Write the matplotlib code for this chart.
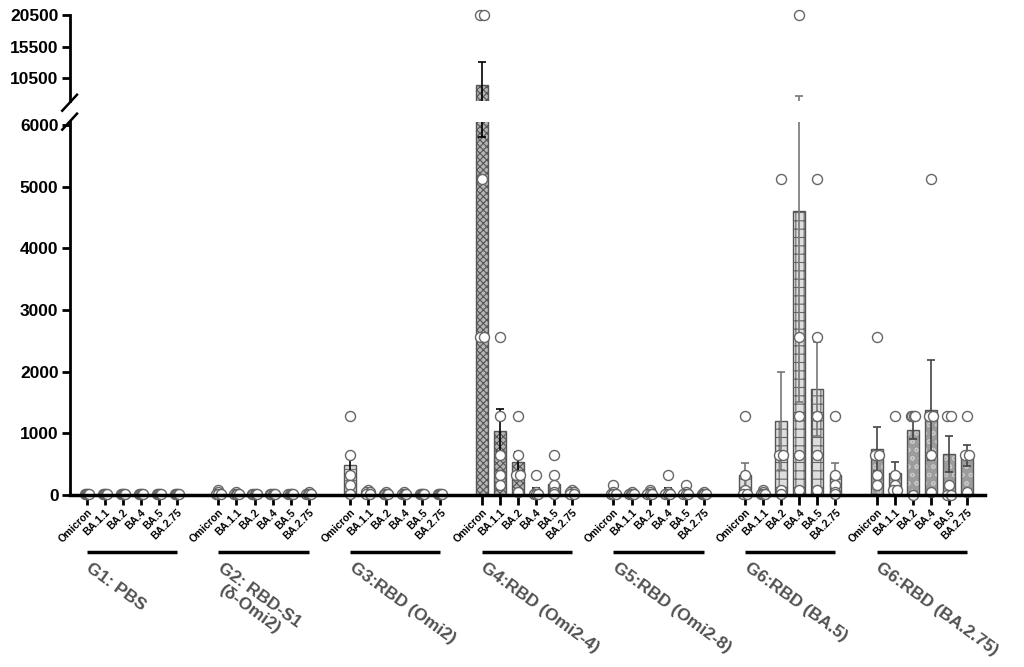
import numpy as np
import matplotlib
matplotlib.use("Agg")
from matplotlib import pyplot as plt

plt.rcParams['font.family'] = ['Liberation Sans', 'DejaVu Sans']
plt.rcParams['font.weight'] = 'bold'
plt.rcParams['hatch.linewidth'] = 0.8

# Variants tested in every group
variants = ['Omicron', 'BA.1.1', 'BA.2', 'BA.4', 'BA.5', 'BA.2.75']
groups = ['G1: PBS', 'G2: RBD-S1\n(δ-Omi2)', 'G3:RBD (Omi2)', 'G4:RBD (Omi2-4)',
          'G5:RBD (Omi2-8)', 'G6:RBD (BA.5)', 'G6:RBD (BA.2.75)']

# Bar heights (mean titre) per group, one value per variant
g1_mean = [0, 0, 0, 0, 0, 0]
g2_mean = [40, 30, 20, 20, 20, 30]
g3_mean = [480, 50, 20, 20, 20, 20]
g4_mean = [9400, 1040, 530, 60, 180, 40]
g5_mean = [40, 20, 30, 50, 40, 20]
g6_mean = [320, 20, 1200, 4600, 1720, 320]
g7_mean = [740, 350, 1050, 1380, 660, 640]

# Error (one side) per bar
g1_err = [0, 0, 0, 0, 0, 0]
g2_err = [20, 10, 10, 10, 10, 10]
g3_err = [170, 20, 10, 10, 10, 10]
g4_err = [3600, 350, 170, 60, 120, 20]
g5_err = [40, 10, 20, 60, 40, 10]
g6_err = [200, 20, 800, 3100, 760, 200]
g7_err = [360, 190, 150, 810, 290, 170]

# Individual animals
g1_pts = [[20, 20, 20, 20, 20]] * 6
g2_pts = [[80, 40, 20, 20, 20], [40, 20, 20, 20, 20], [20, 20, 20, 20, 20],
          [20, 20, 20, 20, 20], [20, 20, 20, 20, 20], [40, 20, 20, 20, 20]]
g3_pts = [[1280, 640, 320, 160, 20], [80, 40, 40, 20, 20], [40, 20, 20, 20, 20],
          [40, 20, 20, 20, 20], [20, 20, 20, 20, 20], [20, 20, 20, 20, 20]]
g4_pts = [[20480, 20480, 5120, 2560, 2560], [2560, 1280, 640, 320, 160],
          [1280, 640, 320, 320, 40], [320, 40, 20, 20, 20],
          [640, 320, 160, 40, 20], [80, 40, 40, 20, 20]]
g5_pts = [[160, 40, 20, 20, 20], [40, 20, 20, 20, 20], [80, 40, 20, 20, 20],
          [320, 40, 20, 20, 20], [160, 40, 20, 20, 20], [40, 20, 20, 20, 20]]
g6_pts = [[1280, 320, 80, 20, 20], [80, 40, 20, 20, 20], [5120, 640, 640, 80, 20],
          [20480, 2560, 1280, 640, 80], [5120, 2560, 1280, 640, 80],
          [1280, 320, 160, 40, 20]]
g7_pts = [[2560, 640, 640, 320, 160], [1280, 320, 160, 80, 80],
          [1280, 1280, 1280, 1280, 0], [5120, 1280, 1280, 640, 40],
          [1280, 1280, 160, 0, 0], [1280, 640, 640, 40]]

means = [g1_mean, g2_mean, g3_mean, g4_mean, g5_mean, g6_mean, g7_mean]
errs = [g1_err, g2_err, g3_err, g4_err, g5_err, g6_err, g7_err]
points = [g1_pts, g2_pts, g3_pts, g4_pts, g5_pts, g6_pts, g7_pts]

# face, hatch, hatch colour, outline, errorbar colour
styles = [
    ('white', '', '#666666', '#666666', 'black'),
    ('#d0d0d0', '---', '#555555', '#444444', 'black'),
    ('#dcdcdc', '---', '#777777', '#555555', 'black'),
    ('#b5b5b5', 'xxxxx', '#555555', '#555555', 'black'),
    ('#333333', 'xxxx', '#111111', '#111111', 'black'),
    ('#dedede', '++', '#666666', '#555555', '#777777'),
    ('#9c9c9c', 'oo', '#c6c6c6', '#555555', '#444444'),
]

group_step = 7.3
bar_w = 0.65
break_lo, break_hi = 6050, 6800

fig = plt.figure(figsize=(10.24, 6.67), dpi=100)
ax = fig.add_axes([0.068, 0.258, 0.894, 0.559])
ax_top = fig.add_axes([0.068, 0.848, 0.894, 0.1295], sharex=ax)

for g in range(len(groups)):
    xs = g * group_step + np.arange(len(variants))
    face, hatch, hcol, outline, ecol = styles[g]
    for a in (ax, ax_top):
        a.bar(xs, means[g], width=bar_w, color=face, hatch=hatch,
              edgecolor=hcol, linewidth=0, zorder=2)
        a.bar(xs, means[g], width=bar_w, fill=False, edgecolor=outline,
              linewidth=1.0, zorder=2)
        a.errorbar(xs, means[g], yerr=errs[g], fmt='none', ecolor=ecol,
                   elinewidth=1.2, capsize=3, capthick=1.2, zorder=3)
    for i, vals in enumerate(points[g]):
        vals = np.array(vals, dtype=float)
        # small sideways shift so repeated values don't fully hide each other
        offs = np.zeros(len(vals))
        for v in np.unique(vals):
            idx = np.where(vals == v)[0]
            if len(idx) > 1:
                offs[idx] = np.linspace(-0.12, 0.12, len(idx))
        lo = vals <= break_lo
        hi = vals >= break_hi
        ax.scatter(xs[i] + offs[lo], vals[lo], s=52, facecolor='white',
                   edgecolor='#666666', linewidth=1.0, zorder=4, clip_on=False)
        ax_top.scatter(xs[i] + offs[hi], vals[hi], s=52, facecolor='white',
                       edgecolor='#666666', linewidth=1.0, zorder=4, clip_on=False)

# axes limits and ticks
ax.set_xlim(-0.95, 49.8)
ax.set_ylim(0, break_lo)
ax_top.set_ylim(break_hi, 20500)
ax.set_yticks([0, 1000, 2000, 3000, 4000, 5000, 6000])
ax_top.set_yticks([10500, 15500, 20500])

xt = [g * group_step + i for g in range(len(groups)) for i in range(len(variants))]
ax.set_xticks(xt)
ax.set_xticklabels(variants * len(groups), rotation=45, ha='right',
                   rotation_mode='anchor', fontsize=7.5, fontweight='bold')

for a in (ax, ax_top):
    a.spines['top'].set_visible(False)
    a.spines['right'].set_visible(False)
    a.spines['left'].set_linewidth(2)
    a.tick_params(axis='y', length=6, width=2, labelsize=12.5, pad=2)
ax.spines['bottom'].set_linewidth(2.5)
ax.spines['bottom'].set_zorder(5)
ax.tick_params(axis='x', length=7, width=2, pad=2)
ax_top.spines['bottom'].set_visible(False)
ax_top.tick_params(axis='x', bottom=False, labelbottom=False)
for lab in ax.get_yticklabels() + ax_top.get_yticklabels():
    lab.set_fontweight('bold')

# break marks on the y axis
d = 0.012
kw = dict(transform=fig.transFigure, color='black', linewidth=1.8, clip_on=False)
fig.add_artist(plt.Line2D([0.068 - d * 0.6, 0.068 + d * 0.6], [0.8176 - d, 0.8176 + d], **kw))
fig.add_artist(plt.Line2D([0.068 - d * 0.6, 0.068 + d * 0.6], [0.846 - d, 0.846 + d], **kw))

# group underlines and names
trans = ax.get_xaxis_transform()
for g, name in enumerate(groups):
    x0 = g * group_step
    ax.plot([x0, x0 + len(variants) - 1], [-0.153, -0.153], color='black',
            linewidth=2.5, transform=trans, clip_on=False, solid_capstyle='butt')
    ax.text(x0 + 0.3, -0.175, name, transform=trans, rotation=-36,
            rotation_mode='anchor', ha='left', va='top', fontsize=12.5,
            fontweight='bold', color='#505050', multialignment='center')

fig.savefig('out.png', dpi=100)
